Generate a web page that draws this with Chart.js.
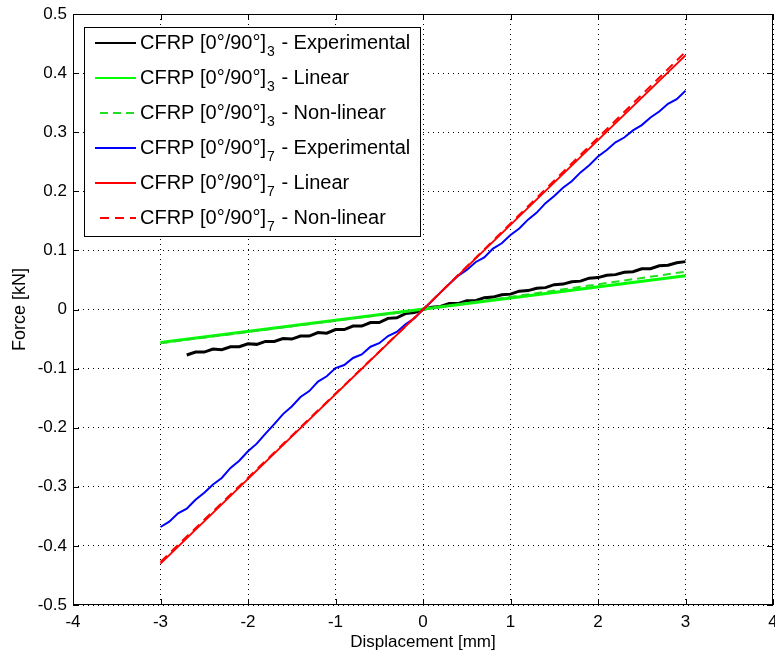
<!DOCTYPE html>
<html>
<head>
<meta charset="utf-8">
<script src="https://cdn.jsdelivr.net/npm/chart.js@4.4.1/dist/chart.umd.min.js"></script>
<style>
  html, body { margin: 0; padding: 0; background: #fff; }
  #wrap { width: 775px; height: 659px; }
</style>
</head>
<body>
<div id="wrap"><canvas id="chart" width="775" height="659"></canvas></div>
<script>
// Force-displacement curves, CFRP [0°/90°] laminates (3 and 7 plies)

const xTickLabels = ['-4', '-3', '-2', '-1', '0', '1', '2', '3', '4'];
const yTickLabels = ['-0.5', '-0.4', '-0.3', '-0.2', '-0.1', '0', '0.1', '0.2', '0.3', '0.4', '0.5'];

// legend text pieces: base, subscript, suffix
const legendBase = 'CFRP [0°/90°]';
const legendSubs = ['3', '3', '3', '7', '7', '7'];
const legendSuffix = [' - Experimental', ' - Linear', ' - Non-linear', ' - Experimental', ' - Linear', ' - Non-linear'];

// 3 plies, experimental
const exp3X = [-2.7, -2.6, -2.5, -2.4, -2.3, -2.2, -2.1, -2.0, -1.9, -1.8, -1.7, -1.6, -1.5, -1.4,
  -1.3, -1.2, -1.1, -1.0, -0.9, -0.8, -0.7, -0.6, -0.5, -0.4, -0.3, -0.2, -0.1, 0.0,
  0.1, 0.2, 0.3, 0.4, 0.5, 0.6, 0.7, 0.8, 0.9, 1.0, 1.1, 1.2, 1.3, 1.4, 1.5, 1.6, 1.7,
  1.8, 1.9, 2.0, 2.1, 2.2, 2.3, 2.4, 2.5, 2.6, 2.7, 2.8, 2.9, 3.0];
const exp3Y = [-0.077, -0.072, -0.072, -0.067, -0.068, -0.063, -0.063, -0.058, -0.059, -0.054, -0.054, -0.049, -0.050, -0.045,
  -0.045, -0.039, -0.040, -0.034, -0.034, -0.028, -0.028, -0.022, -0.022, -0.015, -0.014, -0.007, -0.005, 0.000,
  0.004, 0.005, 0.010, 0.010, 0.015, 0.015, 0.020, 0.021, 0.025, 0.026, 0.031, 0.032, 0.036, 0.037, 0.042, 0.043, 0.047,
  0.048, 0.053, 0.054, 0.058, 0.059, 0.063, 0.064, 0.069, 0.069, 0.074, 0.075, 0.079, 0.081];

// 3 plies, linear and non-linear model
const lin3X = [-3, 3];
const lin3Y = [-0.056, 0.057];
const nl3X = [-3, 0, 3];
const nl3Y = [-0.057, 0, 0.064];

// 7 plies, experimental
const exp7X = [-3.0, -2.9, -2.8, -2.7, -2.6, -2.5, -2.4, -2.3, -2.2, -2.1, -2.0, -1.9, -1.8, -1.7, -1.6,
  -1.5, -1.4, -1.3, -1.2, -1.1, -1.0, -0.9, -0.8, -0.7, -0.6, -0.5, -0.4, -0.3, -0.2, -0.1, 0.0,
  0.1, 0.2, 0.3, 0.4, 0.5, 0.6, 0.7, 0.8, 0.9, 1.0, 1.1, 1.2, 1.3, 1.4, 1.5, 1.6, 1.7, 1.8, 1.9, 2.0,
  2.1, 2.2, 2.3, 2.4, 2.5, 2.6, 2.7, 2.8, 2.9, 3.0];
const exp7Y = [-0.368, -0.359, -0.345, -0.337, -0.322, -0.310, -0.296, -0.285, -0.268, -0.256, -0.240, -0.227, -0.210, -0.194, -0.177,
  -0.164, -0.148, -0.138, -0.122, -0.113, -0.099, -0.094, -0.082, -0.076, -0.063, -0.057, -0.045, -0.038, -0.025, -0.015, 0.000,
  0.014, 0.029, 0.043, 0.057, 0.067, 0.080, 0.088, 0.103, 0.112, 0.126, 0.137, 0.152, 0.164, 0.180, 0.192, 0.206, 0.217, 0.232, 0.244, 0.259,
  0.270, 0.283, 0.291, 0.303, 0.312, 0.325, 0.335, 0.348, 0.356, 0.370];

// 7 plies, linear and non-linear model
const lin7X = [-3, 3];
const lin7Y = [-0.430, 0.430];
const nl7X = [-3, 0, 3];
const nl7Y = [-0.427, 0, 0.436];

const seriesX = [exp3X, lin3X, nl3X, exp7X, lin7X, nl7X];
const seriesY = [exp3Y, lin3Y, nl3Y, exp7Y, lin7Y, nl7Y];
const colors = ['#000000', '#00ff00', '#22dd22', '#0000ff', '#ff0000', '#ff0000'];
const widths = [3, 3, 2, 2, 2, 2];
const dashes = [[], [], [8, 5], [], [], [9, 6]];

const FONT = '"Liberation Sans", Arial, Helvetica, sans-serif';

const datasets = seriesX.map((xs, i) => ({
  label: legendBase + legendSubs[i] + legendSuffix[i],
  data: xs.map((x, j) => ({ x, y: seriesY[i][j] })),
  borderColor: colors[i],
  borderWidth: widths[i],
  borderDash: dashes[i],
  pointRadius: 0,
  showLine: true,
  fill: false,
  tension: 0,
  order: 6 - i,
}));

// box, inward ticks and legend drawn the MATLAB way
const matlabFrame = {
  id: 'matlabFrame',
  afterDatasetsDraw(chart) {
    const { ctx, chartArea: a, scales } = chart;
    ctx.save();
    ctx.strokeStyle = '#000';
    ctx.lineWidth = 1;
    ctx.setLineDash([]);
    ctx.strokeRect(a.left + 0.5, a.top + 0.5, a.right - a.left - 1, a.bottom - a.top - 1);
    const tl = 6;
    ctx.beginPath();
    scales.x.ticks.forEach(t => {
      const px = Math.round(scales.x.getPixelForValue(t.value)) + 0.5;
      ctx.moveTo(px, a.bottom); ctx.lineTo(px, a.bottom - tl);
      ctx.moveTo(px, a.top); ctx.lineTo(px, a.top + tl);
    });
    scales.y.ticks.forEach(t => {
      const py = Math.round(scales.y.getPixelForValue(t.value)) + 0.5;
      ctx.moveTo(a.left, py); ctx.lineTo(a.left + tl, py);
      ctx.moveTo(a.right, py); ctx.lineTo(a.right - tl, py);
    });
    ctx.stroke();

    // legend
    const bx = 84.5, by = 27.5, bw = 336, bh = 209;
    ctx.fillStyle = '#fff';
    ctx.fillRect(bx, by, bw, bh);
    ctx.strokeRect(bx, by, bw, bh);
    ctx.textBaseline = 'middle';
    chart.data.datasets.forEach((ds, i) => {
      const y = 43 + i * 35;
      ctx.beginPath();
      ctx.strokeStyle = ds.borderColor;
      ctx.lineWidth = 2;
      ctx.setLineDash(ds.borderDash || []);
      ctx.moveTo(ds.borderDash && ds.borderDash.length ? 100 : 95, y);
      ctx.lineTo(136, y);
      ctx.stroke();
      ctx.setLineDash([]);
      ctx.fillStyle = '#000';
      let x = 140;
      ctx.font = '20px ' + FONT;
      ctx.fillText(legendBase, x, y);
      x += ctx.measureText(legendBase).width;
      ctx.font = '14px ' + FONT;
      ctx.fillText(legendSubs[i], x + 1, y + 9);
      x += ctx.measureText(legendSubs[i]).width + 2;
      ctx.font = '20px ' + FONT;
      ctx.fillText(legendSuffix[i], x, y);
    });
    ctx.restore();
  },
};

new Chart(document.getElementById('chart'), {
  type: 'scatter',
  data: { datasets },
  options: {
    responsive: false,
    animation: false,
    layout: { padding: { top: 14, right: 2, left: 0, bottom: 0 } },
    plugins: { legend: { display: false }, tooltip: { enabled: false } },
    scales: {
      x: {
        type: 'linear',
        min: -4, max: 4,
        afterFit: s => { s.height = 54; s.paddingLeft = 0; s.paddingRight = 0; },
        ticks: {
          stepSize: 1,
          padding: 7,
          color: '#000',
          font: { family: FONT, size: 17 },
          callback: (v, i) => xTickLabels[i],
        },
        grid: { color: '#000', lineWidth: 1, drawTicks: false },
        border: { display: false, dash: [1, 4] },
        title: {
          display: true,
          text: 'Displacement [mm]',
          color: '#000',
          font: { family: FONT, size: 17 },
          padding: { top: 0, bottom: 6 },
        },
      },
      y: {
        type: 'linear',
        min: -0.5, max: 0.5,
        afterFit: s => { s.width = 73; s.paddingTop = 0; s.paddingBottom = 0; },
        ticks: {
          stepSize: 0.1,
          padding: 6,
          color: '#000',
          font: { family: FONT, size: 17 },
          callback: (v, i) => yTickLabels[i],
        },
        grid: { color: '#000', lineWidth: 1, drawTicks: false },
        border: { display: false, dash: [1, 4] },
        title: {
          display: true,
          text: 'Force [kN]',
          color: '#000',
          font: { family: FONT, size: 18 },
          padding: { top: 9, bottom: 0 },
        },
      },
    },
  },
  plugins: [matlabFrame],
});
</script>
</body>
</html>
